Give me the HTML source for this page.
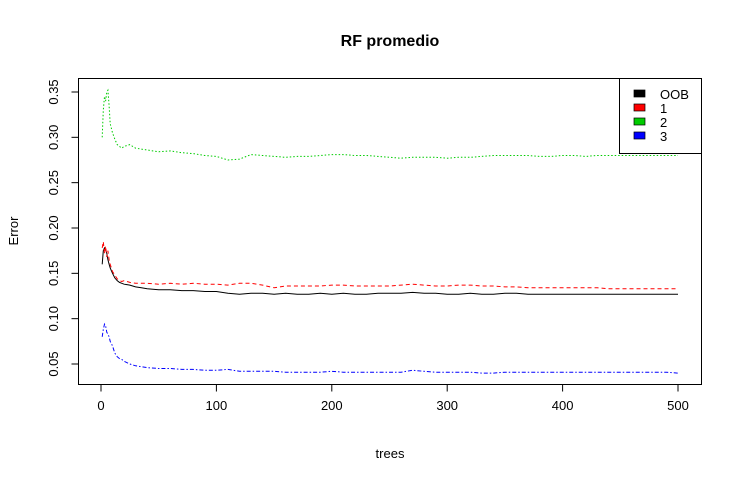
<!DOCTYPE html>
<html><head><meta charset="utf-8"><style>
body{margin:0;background:#fff;}
svg text{font-family:"Liberation Sans",sans-serif;}
</style></head><body>
<svg id="chart" width="742" height="483" viewBox="0 0 742 483" xmlns="http://www.w3.org/2000/svg">
<rect width="742" height="483" fill="#fff"/>
<text x="390" y="46" font-size="16" font-weight="bold" text-anchor="middle">RF promedio</text>
<rect x="78.5" y="78.5" width="623" height="306" fill="none" stroke="#000"/>
<g id="xaxis"></g>
<g id="yaxis"></g>
<text x="390" y="458" font-size="13" text-anchor="middle">trees</text>
<text x="18" y="231" font-size="13" text-anchor="middle" transform="rotate(-90 18 231)">Error</text>
<g id="series"></g>
<g>
<rect x="619.5" y="78.5" width="82" height="75" fill="#fff" stroke="#000"/>
<g><rect x="634" y="90" width="11" height="7" fill="#000" stroke="#000" stroke-width="0.7"/><text x="660" y="99" font-size="13">OOB</text></g>
<g><rect x="634" y="104" width="11" height="7" fill="#f00" stroke="#000" stroke-width="0.7"/><text x="660" y="113" font-size="13">1</text></g>
<g><rect x="634" y="118" width="11" height="7" fill="#0c0" stroke="#000" stroke-width="0.7"/><text x="660" y="127" font-size="13">2</text></g>
<g><rect x="634" y="132" width="11" height="7" fill="#00f" stroke="#000" stroke-width="0.7"/><text x="660" y="141" font-size="13">3</text></g>
</g>
</svg>
<script>
const trees=[1,2,3,4,5,6,7,8,10,12,14,16,18,20,25,30,35,40,50,60,70,80,90,100,110,120,130,140,150,160,170,180,190,200,210,220,230,240,250,260,270,280,290,300,310,320,330,340,350,360,370,380,390,400,410,420,430,440,450,460,470,480,490,500];
const oob=[0.160,0.175,0.178,0.176,0.172,0.165,0.160,0.156,0.150,0.145,0.142,0.140,0.139,0.138,0.137,0.135,0.134,0.133,0.132,0.132,0.131,0.131,0.130,0.130,0.128,0.127,0.128,0.128,0.127,0.128,0.127,0.127,0.128,0.127,0.128,0.127,0.127,0.128,0.128,0.128,0.129,0.128,0.128,0.127,0.127,0.128,0.127,0.127,0.128,0.128,0.127,0.127,0.127,0.127,0.127,0.127,0.127,0.127,0.127,0.127,0.127,0.127,0.127,0.127];
const cls1=[0.178,0.185,0.172,0.180,0.168,0.175,0.165,0.160,0.152,0.148,0.144,0.142,0.141,0.142,0.140,0.139,0.139,0.139,0.138,0.139,0.138,0.139,0.138,0.138,0.137,0.139,0.139,0.137,0.134,0.136,0.136,0.136,0.136,0.137,0.137,0.136,0.136,0.136,0.136,0.137,0.138,0.137,0.136,0.136,0.137,0.137,0.136,0.136,0.135,0.135,0.134,0.134,0.134,0.134,0.134,0.134,0.134,0.133,0.133,0.133,0.133,0.133,0.133,0.133];
const cls2=[0.300,0.330,0.345,0.340,0.350,0.352,0.335,0.315,0.305,0.298,0.292,0.290,0.288,0.290,0.292,0.288,0.287,0.286,0.284,0.285,0.283,0.282,0.280,0.279,0.275,0.276,0.281,0.280,0.279,0.278,0.279,0.279,0.280,0.281,0.281,0.280,0.280,0.279,0.278,0.277,0.278,0.278,0.278,0.277,0.278,0.278,0.279,0.280,0.280,0.280,0.280,0.279,0.279,0.280,0.280,0.279,0.280,0.280,0.280,0.280,0.280,0.280,0.280,0.280];
const cls3=[0.080,0.088,0.094,0.092,0.085,0.083,0.080,0.075,0.070,0.062,0.058,0.056,0.055,0.053,0.050,0.048,0.047,0.046,0.045,0.045,0.044,0.044,0.043,0.043,0.044,0.042,0.042,0.042,0.042,0.041,0.041,0.041,0.041,0.042,0.041,0.041,0.041,0.041,0.041,0.041,0.043,0.042,0.041,0.041,0.041,0.041,0.040,0.040,0.041,0.041,0.041,0.041,0.041,0.041,0.041,0.041,0.041,0.041,0.041,0.041,0.041,0.041,0.041,0.040];
const xTicks=[0,100,200,300,400,500];
const yTicks=[0.05,0.10,0.15,0.20,0.25,0.30,0.35];
const yTickLabels=["0.05","0.10","0.15","0.20","0.25","0.30","0.35"];
const NS="http://www.w3.org/2000/svg";
function xs(t){return 101+t*1.154;}
function ys(v){return 364-(v-0.05)*906.7;}
function mk(tag,attrs,parent){const e=document.createElementNS(NS,tag);for(const k in attrs)e.setAttribute(k,attrs[k]);parent.appendChild(e);return e;}
const xa=document.getElementById('xaxis'),ya=document.getElementById('yaxis'),sg=document.getElementById('series');
mk('line',{x1:xs(xTicks[0]),x2:xs(xTicks[xTicks.length-1]),y1:384.5,y2:384.5,stroke:'#000'},xa);
xTicks.forEach(t=>{
  const l=mk('line',{x1:xs(t),x2:xs(t),y1:384.5,y2:391.5,stroke:'#000'},xa);
  
  
  const tx=mk('text',{x:xs(t),y:410,'font-size':13,'text-anchor':'middle'},xa);
  
  
  tx.textContent=t;
});
mk('line',{x1:78.5,x2:78.5,y1:ys(yTicks[0]),y2:ys(yTicks[yTicks.length-1]),stroke:'#000'},ya);
yTicks.forEach((v,i)=>{
  const y=ys(v);
  const l=mk('line',{x1:71.5,x2:78.5,y1:y,y2:y,stroke:'#000'},ya);
  
  
  const tx=mk('text',{x:58,y:y,'font-size':13,'text-anchor':'middle',transform:`rotate(-90 58 ${y})`},ya);
  
  
  tx.textContent=yTickLabels[i];
});
const defs=[[oob,'#000','','series-oob'],[cls1,'#f00','4 3','series-class-1'],[cls2,'#0c0','1.5 2','series-class-2'],[cls3,'#00f','4 2 1.5 2','series-class-3']];
defs.forEach(([vals,c,dash,name])=>{
  const pts=trees.map((t,i)=>xs(t).toFixed(1)+','+ys(vals[i]).toFixed(1)).join(' ');
  const p=mk('polyline',{points:pts,fill:'none',stroke:c,'stroke-width':1},sg);
  if(dash)p.setAttribute('stroke-dasharray',dash);
  
  
});
</script>
</body></html>
